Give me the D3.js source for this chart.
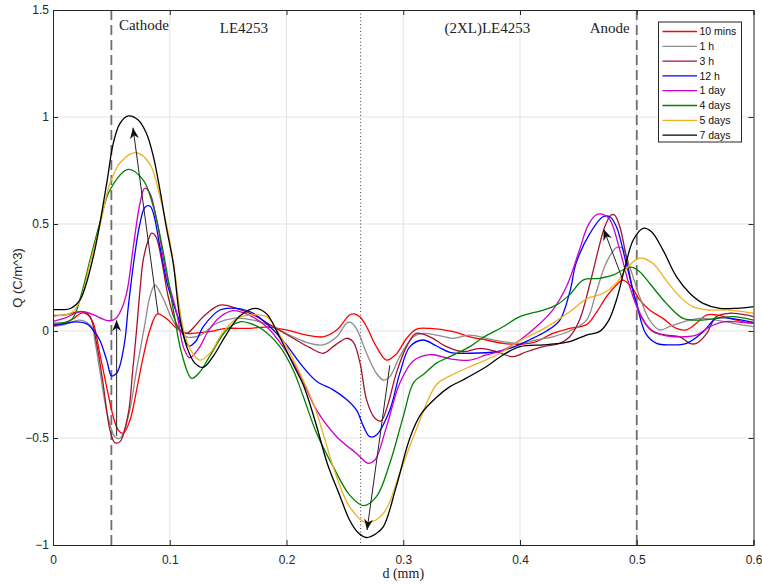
<!DOCTYPE html>
<html>
<head>
<meta charset="utf-8">
<script src="https://cdn.jsdelivr.net/npm/d3@7"></script>
<style>
  body { margin: 0; background: #fff; }
  svg { display: block; }
</style>
</head>
<body>
<svg id="chart" width="762" height="584"></svg>
<script>
// Space-charge profiles Q(d) at successive ageing times, as [d (mm), Q (C/m^3)]
const legendLabels = ["10 mins", "1 h", "3 h", "12 h", "1 day", "4 days", "5 days", "7 days"];
const xTicks = [0, 0.1, 0.2, 0.3, 0.4, 0.5, 0.6];
const yTicks = [-1, -0.5, 0, 0.5, 1, 1.5];

const q10min = [[0,0.03],[0.01,0.035],[0.018,0.06],[0.025,0.085],[0.03,0.075],[0.0345,0.036],[0.04,-0.104],[0.0459,-0.26],[0.0516,-0.40],[0.0559,-0.463],[0.0602,-0.478],[0.066,-0.416],[0.0716,-0.276],[0.0773,-0.12],[0.083,0.005],[0.0893,0.079],[0.097,0.059],[0.106,0.012],[0.1145,-0.011],[0.12,-0.011],[0.134,-0.003],[0.1487,0.012],[0.166,0.012],[0.183,0.018],[0.2,0.005],[0.217,-0.019],[0.2314,-0.027],[0.243,0.005],[0.254,0.075],[0.258,0.08],[0.263,0.065],[0.2686,0.02],[0.277,-0.073],[0.2857,-0.136],[0.294,-0.108],[0.3028,-0.035],[0.311,0.008],[0.3228,0.012],[0.3427,-0.003],[0.357,-0.027],[0.371,-0.042],[0.3855,-0.058],[0.40,-0.062],[0.414,-0.05],[0.428,-0.011],[0.4426,0.012],[0.457,0.03],[0.465,0.083],[0.474,0.16],[0.4826,0.215],[0.488,0.238],[0.4955,0.207],[0.5025,0.145],[0.511,0.098],[0.5225,0.059],[0.534,0.012],[0.5425,0.005],[0.551,0.036],[0.56,0.075],[0.568,0.075],[0.5796,0.059],[0.591,0.043],[0.6,0.036]];

const q1h = [[0,0.02],[0.01,0.03],[0.023,0.051],[0.033,0.02],[0.036,-0.05],[0.04,-0.182],[0.047,-0.4],[0.053,-0.494],[0.0574,-0.501],[0.0645,-0.4],[0.0716,-0.182],[0.0788,0.036],[0.083,0.16],[0.0873,0.215],[0.0945,0.15],[0.103,0.045],[0.1145,-0.027],[0.126,-0.02],[0.14,0.036],[0.1544,0.059],[0.1715,0.051],[0.1886,0.02],[0.2057,-0.027],[0.22,-0.058],[0.2314,-0.065],[0.243,-0.027],[0.2515,0.036],[0.255,0.04],[0.26,0.01],[0.2686,-0.104],[0.277,-0.198],[0.283,-0.229],[0.2885,-0.213],[0.297,-0.12],[0.3085,-0.027],[0.317,-0.011],[0.3285,-0.019],[0.3427,-0.034],[0.357,-0.019],[0.371,-0.034],[0.3855,-0.05],[0.40,-0.058],[0.414,-0.042],[0.428,-0.027],[0.4426,0.0],[0.457,0.051],[0.465,0.176],[0.474,0.32],[0.4826,0.39],[0.488,0.385],[0.494,0.30],[0.5025,0.16],[0.511,0.051],[0.5197,0.005],[0.528,0.02],[0.54,0.043],[0.554,0.059],[0.568,0.051],[0.5825,0.036],[0.6,0.02]];

const q3h = [[0,0.07],[0.01,0.075],[0.02,0.088],[0.026,0.09],[0.0317,0.067],[0.0374,-0.06],[0.043,-0.25],[0.0488,-0.463],[0.053,-0.522],[0.0574,-0.517],[0.0645,-0.385],[0.068,-0.2],[0.0715,0.0],[0.0745,0.19],[0.0773,0.332],[0.0816,0.425],[0.0845,0.457],[0.0882,0.44],[0.093,0.332],[0.0987,0.16],[0.1045,0.05],[0.1087,0.005],[0.1145,-0.011],[0.121,0.02],[0.1287,0.067],[0.143,0.121],[0.157,0.106],[0.1715,0.075],[0.1886,0.02],[0.2057,-0.034],[0.22,-0.078],[0.2314,-0.104],[0.24,-0.073],[0.2515,-0.034],[0.257,-0.05],[0.263,-0.15],[0.2686,-0.322],[0.2757,-0.408],[0.281,-0.42],[0.2865,-0.35],[0.294,-0.198],[0.3028,-0.073],[0.311,-0.011],[0.3228,-0.027],[0.337,-0.073],[0.351,-0.097],[0.3656,-0.081],[0.38,-0.097],[0.394,-0.12],[0.4056,-0.097],[0.42,-0.073],[0.434,-0.058],[0.4426,-0.027],[0.451,0.051],[0.46,0.223],[0.467,0.378],[0.4726,0.487],[0.478,0.542],[0.481,0.542],[0.4855,0.487],[0.491,0.347],[0.498,0.16],[0.5054,0.051],[0.514,-0.003],[0.5254,-0.019],[0.537,-0.027],[0.5454,-0.058],[0.551,-0.058],[0.56,-0.011],[0.568,0.067],[0.5796,0.083],[0.594,0.075],[0.6,0.067]];

const q12h = [[0,0.025],[0.01,0.035],[0.02,0.043],[0.029,0.033],[0.035,0.0],[0.040,-0.042],[0.046,-0.136],[0.0502,-0.21],[0.054,-0.2],[0.057,-0.167],[0.0616,-0.042],[0.0645,0.114],[0.0702,0.363],[0.0745,0.503],[0.0788,0.578],[0.083,0.584],[0.086,0.55],[0.0916,0.394],[0.0985,0.207],[0.1087,0.04],[0.116,-0.07],[0.122,-0.05],[0.1287,0.02],[0.143,0.098],[0.157,0.106],[0.1715,0.083],[0.1858,0.02],[0.2,-0.065],[0.2115,-0.15],[0.2258,-0.235],[0.24,-0.275],[0.2515,-0.32],[0.26,-0.37],[0.2655,-0.44],[0.2714,-0.494],[0.277,-0.486],[0.2885,-0.369],[0.297,-0.198],[0.3057,-0.073],[0.317,-0.042],[0.3285,-0.07],[0.34,-0.1],[0.357,-0.104],[0.38,-0.097],[0.397,-0.07],[0.408,-0.042],[0.4227,0.0],[0.434,0.05],[0.443,0.19],[0.448,0.316],[0.46,0.457],[0.471,0.534],[0.477,0.534],[0.4826,0.487],[0.491,0.316],[0.4997,0.129],[0.508,-0.015],[0.517,-0.058],[0.528,-0.065],[0.5425,-0.058],[0.557,-0.003],[0.568,0.059],[0.58,0.059],[0.6,0.04]];

const q1day = [[0,0.045],[0.01,0.06],[0.02,0.085],[0.026,0.09],[0.035,0.075],[0.043,0.055],[0.0488,0.048],[0.054,0.06],[0.057,0.083],[0.063,0.176],[0.0688,0.394],[0.0745,0.597],[0.0785,0.667],[0.083,0.643],[0.0888,0.519],[0.097,0.27],[0.106,0.083],[0.112,-0.08],[0.117,-0.125],[0.125,-0.08],[0.133,0.0],[0.143,0.065],[0.1544,0.095],[0.1687,0.072],[0.183,0.02],[0.197,-0.073],[0.2115,-0.205],[0.2258,-0.37],[0.243,-0.494],[0.26,-0.572],[0.27,-0.618],[0.2757,-0.603],[0.2857,-0.447],[0.297,-0.244],[0.3085,-0.14],[0.3228,-0.11],[0.34,-0.13],[0.357,-0.136],[0.371,-0.112],[0.3855,-0.089],[0.40,-0.042],[0.414,0.02],[0.428,0.098],[0.44,0.21],[0.451,0.38],[0.458,0.49],[0.465,0.542],[0.471,0.545],[0.477,0.52],[0.4855,0.378],[0.494,0.207],[0.5025,0.083],[0.511,0.012],[0.5225,-0.019],[0.537,-0.027],[0.551,-0.019],[0.5625,0.02],[0.574,0.043],[0.585,0.043],[0.6,0.036]];

const q4days = [[0,0.037],[0.01,0.04],[0.017,0.06],[0.0245,0.176],[0.0317,0.332],[0.040,0.503],[0.0488,0.659],[0.0645,0.755],[0.0773,0.705],[0.086,0.58],[0.093,0.41],[0.0987,0.238],[0.104,0.07],[0.11,-0.1],[0.1187,-0.221],[0.126,-0.19],[0.134,-0.12],[0.1487,0.005],[0.16,0.043],[0.1687,0.036],[0.18,0.005],[0.1943,-0.073],[0.2057,-0.182],[0.214,-0.3],[0.2258,-0.478],[0.24,-0.634],[0.254,-0.766],[0.2657,-0.816],[0.277,-0.774],[0.2885,-0.618],[0.30,-0.40],[0.309,-0.24],[0.318,-0.2],[0.3285,-0.15],[0.34,-0.12],[0.357,-0.073],[0.3684,-0.03],[0.3855,0.02],[0.40,0.067],[0.42,0.098],[0.431,0.121],[0.4426,0.17],[0.454,0.238],[0.468,0.246],[0.48,0.262],[0.488,0.285],[0.4955,0.298],[0.5025,0.277],[0.511,0.223],[0.5254,0.129],[0.5397,0.059],[0.554,0.051],[0.568,0.059],[0.5825,0.067],[0.6,0.051]];

const q5days = [[0,0.075],[0.01,0.075],[0.017,0.09],[0.0245,0.16],[0.0317,0.316],[0.040,0.487],[0.0488,0.69],[0.058,0.79],[0.0716,0.833],[0.083,0.78],[0.0916,0.628],[0.0987,0.457],[0.1045,0.27],[0.107,0.16],[0.112,0.0],[0.118,-0.09],[0.1258,-0.136],[0.135,-0.1],[0.145,-0.01],[0.158,0.06],[0.1715,0.075],[0.183,0.067],[0.1915,0.005],[0.2,-0.073],[0.2115,-0.198],[0.223,-0.338],[0.232,-0.49],[0.24,-0.634],[0.254,-0.821],[0.2686,-0.896],[0.283,-0.852],[0.297,-0.665],[0.311,-0.463],[0.3285,-0.25],[0.34,-0.21],[0.357,-0.167],[0.38,-0.112],[0.40,-0.045],[0.42,0.01],[0.4426,0.09],[0.457,0.15],[0.471,0.175],[0.4826,0.225],[0.491,0.29],[0.4997,0.335],[0.505,0.34],[0.514,0.315],[0.5254,0.235],[0.537,0.16],[0.548,0.114],[0.5625,0.098],[0.5796,0.098],[0.6,0.083]];

const q7days = [[0,0.10],[0.008,0.10],[0.015,0.105],[0.0231,0.145],[0.0345,0.347],[0.046,0.69],[0.0516,0.877],[0.0574,0.97],[0.0645,1.005],[0.073,0.986],[0.080,0.924],[0.086,0.815],[0.0916,0.659],[0.097,0.487],[0.103,0.316],[0.1087,0.06],[0.1145,-0.073],[0.1215,-0.15],[0.1287,-0.17],[0.137,-0.12],[0.148,-0.02],[0.16,0.07],[0.173,0.106],[0.183,0.08],[0.194,-0.027],[0.206,-0.16],[0.215,-0.26],[0.225,-0.43],[0.235,-0.62],[0.245,-0.76],[0.254,-0.883],[0.261,-0.94],[0.2686,-0.965],[0.276,-0.95],[0.283,-0.914],[0.294,-0.727],[0.3057,-0.5],[0.315,-0.39],[0.3285,-0.31],[0.34,-0.26],[0.351,-0.229],[0.371,-0.167],[0.3855,-0.112],[0.40,-0.073],[0.42,-0.065],[0.434,-0.058],[0.4426,-0.05],[0.457,-0.019],[0.468,-0.003],[0.476,0.05],[0.4826,0.145],[0.49,0.30],[0.497,0.425],[0.5054,0.48],[0.5126,0.464],[0.5225,0.378],[0.534,0.254],[0.5454,0.176],[0.5568,0.129],[0.571,0.106],[0.5854,0.106],[0.6,0.114]];

const seriesValues = [q10min, q1h, q3h, q12h, q1day, q4days, q5days, q7days];
const seriesColors = ["#ff0000", "#8c8c8c", "#a2142f", "#0000ff", "#cc00cc", "#008000", "#edb120", "#000000"];

// Electrode positions, layer interface and the layer names above them
const electrodeD = [0.05, 0.5];
const interfaceD = 0.2635;
const regionLabels = ["Cathode", "LE4253", "(2XL)LE4253", "Anode"];

// Trend arrows: [from, to] in data units
const trendArrows = [
  [[0.09, 0.08], [0.0685, 0.95]],
  [[0.0545, -0.49], [0.0545, 0.05]],
  [[0.2885, -0.16], [0.269, -0.93]],
  [[0.488, 0.24], [0.4717, 0.475]]
];

const svg = d3.select("#chart");
const plotLeft = 53, plotRight = 753.5, plotTop = 10, plotBottom = 545;
const x = d3.scaleLinear().domain([0, 0.6]).range([plotLeft, plotRight]);
const y = d3.scaleLinear().domain([-1, 1.5]).range([plotBottom, plotTop]);
const axisColor = "#262626";

// grid
const grid = svg.append("g").attr("stroke", "#e3e3e3").attr("stroke-width", 1);
xTicks.slice(1, -1).forEach(t => grid.append("line")
  .attr("x1", x(t)).attr("x2", x(t)).attr("y1", plotTop).attr("y2", plotBottom));
yTicks.slice(1, -1).forEach(t => grid.append("line")
  .attr("x1", plotLeft).attr("x2", plotRight).attr("y1", y(t)).attr("y2", y(t)));

// electrode and interface markers
electrodeD.forEach(d => svg.append("line")
  .attr("x1", x(d)).attr("x2", x(d)).attr("y1", plotTop).attr("y2", plotBottom)
  .attr("stroke", "#6e6e6e").attr("stroke-width", 1.8).attr("stroke-dasharray", "10,5"));
svg.append("line")
  .attr("x1", x(interfaceD)).attr("x2", x(interfaceD)).attr("y1", plotTop).attr("y2", plotBottom)
  .attr("stroke", "#444").attr("stroke-width", 1).attr("stroke-dasharray", "1,2.5");

// curves
const line = d3.line().x(p => x(p[0])).y(p => y(p[1])).curve(d3.curveCatmullRom.alpha(0.5));
const plot = svg.append("g");
seriesValues.forEach((vals, i) => plot.append("path")
  .attr("d", line(vals)).attr("fill", "none")
  .attr("stroke", seriesColors[i]).attr("stroke-width", 1.3)
  .attr("stroke-linejoin", "round"));

// arrows
trendArrows.forEach(([a, b]) => {
  const x0 = x(a[0]), y0 = y(a[1]), x1 = x(b[0]), y1 = y(b[1]);
  const ang = Math.atan2(y1 - y0, x1 - x0) * 180 / Math.PI;
  svg.append("line").attr("x1", x0).attr("y1", y0).attr("x2", x1).attr("y2", y1)
    .attr("stroke", "#222").attr("stroke-width", 1);
  svg.append("path").attr("d", "M0,0 L-11,-4.5 L-7.5,0 L-11,4.5 Z")
    .attr("fill", "#111")
    .attr("transform", `translate(${x1},${y1}) rotate(${ang})`);
});

// region labels
const serif = "'Liberation Serif', 'Times New Roman', serif";
const labelPos = [
  { d: 0.0565, y: 29.5, anchor: "start" },
  { d: 0.1635, y: 33, anchor: "middle" },
  { d: 0.372, y: 33, anchor: "middle" },
  { d: 0.494, y: 33, anchor: "end" }
];
regionLabels.forEach((t, i) => svg.append("text")
  .attr("x", x(labelPos[i].d)).attr("y", labelPos[i].y)
  .attr("text-anchor", labelPos[i].anchor)
  .attr("font-family", serif).attr("font-size", 15).attr("fill", "#222")
  .text(t));

// axes
const sans = "'Liberation Sans', Arial, sans-serif";
const styleAxis = g => {
  g.select(".domain").attr("stroke", axisColor);
  g.selectAll(".tick line").attr("stroke", axisColor);
  g.selectAll(".tick text").attr("fill", axisColor).attr("font-family", sans).attr("font-size", 12);
};
svg.append("g").attr("transform", `translate(0,${plotBottom})`)
  .call(d3.axisBottom(x).tickValues(xTicks).tickFormat(d3.format("")).tickSize(-5).tickPadding(10))
  .call(styleAxis);
svg.append("g").attr("transform", `translate(0,${plotTop})`)
  .call(d3.axisTop(x).tickValues(xTicks).tickFormat("").tickSize(-5))
  .call(styleAxis);
svg.append("g").attr("transform", `translate(${plotLeft},0)`)
  .call(d3.axisLeft(y).tickValues(yTicks).tickFormat(d3.format("")).tickSize(-5).tickPadding(4))
  .call(styleAxis);
svg.append("g").attr("transform", `translate(${plotRight},0)`)
  .call(d3.axisRight(y).tickValues(yTicks).tickFormat("").tickSize(-5))
  .call(styleAxis);

// axis titles
svg.append("text").attr("x", (plotLeft + plotRight) / 2).attr("y", 578).attr("text-anchor", "middle")
  .attr("font-family", serif).attr("font-size", 14).attr("fill", "#222").text("d (mm)");
svg.append("text").attr("transform", "translate(22,278) rotate(-90)")
  .attr("text-anchor", "middle").attr("font-family", sans).attr("font-size", 13)
  .attr("fill", axisColor).text("Q (C/m^3)");

// legend
const lg = svg.append("g").attr("transform", "translate(658.5,22)");
lg.append("rect").attr("width", 83).attr("height", 120).attr("fill", "#fff")
  .attr("stroke", axisColor).attr("stroke-width", 1);
legendLabels.forEach((t, i) => {
  const cy = 9.5 + i * 14.8;
  lg.append("line").attr("x1", 4).attr("x2", 38.5).attr("y1", cy).attr("y2", cy)
    .attr("stroke", seriesColors[i]).attr("stroke-width", 1.3);
  lg.append("text").attr("x", 41).attr("y", cy).attr("dy", "0.35em")
    .attr("font-family", sans).attr("font-size", 10.5).attr("fill", "#111").text(t);
});
</script>
</body>
</html>
